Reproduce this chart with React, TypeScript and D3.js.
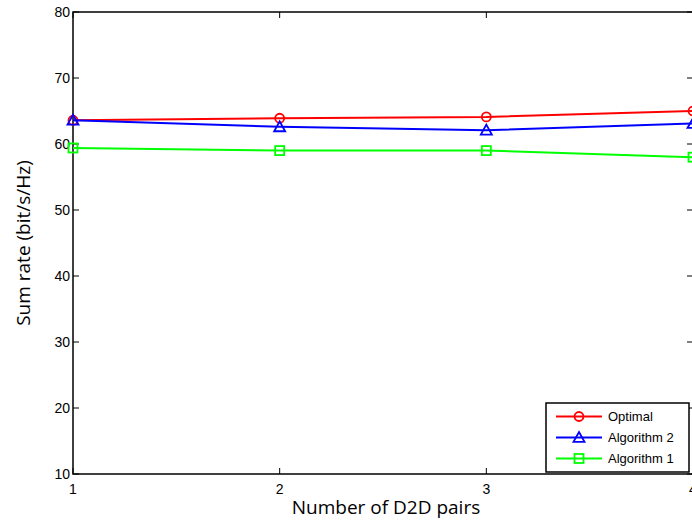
import React from "react";
import * as d3 from "d3";

const xValues = [1, 2, 3, 4];
const optimal = [63.6, 63.9, 64.1, 65.0];
const algorithm2 = [63.6, 62.6, 62.1, 63.1];
const algorithm1 = [59.4, 59.0, 59.0, 58.0];
const yTicks = [10, 20, 30, 40, 50, 60, 70, 80];
const xTicks = [1, 2, 3, 4];
const seriesNames = ["Optimal", "Algorithm 2", "Algorithm 1"];
const seriesColors = ["#ff0000", "#0000ff", "#00ff00"];
const seriesMarkers = ["circle", "triangle", "square"];

const W = 692, H = 520;
const left = 73, right = 693, top = 12, bottom = 474;

function Marker({ type, x, y, color }: { type: string; x: number; y: number; color: string }) {
  if (type === "circle") return <circle cx={x} cy={y} r={4.5} fill="none" stroke={color} strokeWidth={1.8} />;
  if (type === "triangle") {
    const s = 5.5;
    return <path d={`M${x},${y - s}L${x + s},${y + s * 0.8}L${x - s},${y + s * 0.8}Z`} fill="none" stroke={color} strokeWidth={1.8} />;
  }
  return <rect x={x - 4.5} y={y - 4.5} width={9} height={9} fill="none" stroke={color} strokeWidth={1.8} />;
}

export default function App() {
  const x = d3.scaleLinear().domain([1, 4]).range([left, right]);
  const y = d3.scaleLinear().domain([10, 80]).range([bottom, top]);
  const series = [optimal, algorithm2, algorithm1];
  const line = d3.line<number>().x((_, i) => x(xValues[i])).y((d) => y(d));
  const font = "Arial, 'Liberation Sans', sans-serif";
  const legX = 546, legY = 403, legW = 143, legH = 69;
  return (
    <svg width={W} height={H} style={{ position: "absolute", left: 0, top: 0, background: "#fff" }}>
      <rect x={0} y={0} width={W} height={H} fill="#fff" />
      {yTicks.map((t) => (
        <g key={"y" + t}>
          <line x1={left} x2={left + 6} y1={y(t)} y2={y(t)} stroke="#000" strokeWidth={1} />
          <line x1={right} x2={right - 6} y1={y(t)} y2={y(t)} stroke="#000" strokeWidth={1} />
          <text x={left - 3} y={y(t)} dy="0.35em" textAnchor="end" fontFamily={font} fontSize={14} fill="#000">{t}</text>
        </g>
      ))}
      {xTicks.map((t) => (
        <g key={"x" + t}>
          <line x1={x(t)} x2={x(t)} y1={bottom} y2={bottom - 6} stroke="#000" strokeWidth={1} />
          <line x1={x(t)} x2={x(t)} y1={top} y2={top + 6} stroke="#000" strokeWidth={1} />
          <text x={x(t)} y={bottom + 20} textAnchor="middle" fontFamily={font} fontSize={14} fill="#000">{t}</text>
        </g>
      ))}
      <rect x={left} y={top} width={right - left} height={bottom - top} fill="none" stroke="#000" strokeWidth={1.5} />
      {series.map((s, i) => (
        <g key={"s" + i}>
          <path d={line(s) || ""} fill="none" stroke={seriesColors[i]} strokeWidth={2} />
          {s.map((v, j) => (
            <Marker key={j} type={seriesMarkers[i]} x={x(xValues[j])} y={y(v)} color={seriesColors[i]} />
          ))}
        </g>
      ))}
      <rect x={legX} y={legY} width={legW} height={legH} fill="#fff" stroke="#000" strokeWidth={1.5} />
      {seriesNames.map((n, i) => {
        const ly = 416.5 + i * 21;
        return (
          <g key={"l" + i}>
            <line x1={556} x2={602} y1={ly} y2={ly} stroke={seriesColors[i]} strokeWidth={2} />
            <Marker type={seriesMarkers[i]} x={579} y={ly} color={seriesColors[i]} />
            <text x={608} y={ly} dy="0.35em" fontFamily={font} fontSize={13} fill="#000">{n}</text>
          </g>
        );
      })}
      <text x={386} y={514} textAnchor="middle" fontFamily="'Open Sans', sans-serif" fontSize={19} fill="#000">Number of D2D pairs</text>
      <text transform={`translate(30,243) rotate(-90)`} textAnchor="middle" fontFamily="'Open Sans', sans-serif" fontSize={19} fill="#000">Sum rate (bit/s/Hz)</text>
    </svg>
  );
}
